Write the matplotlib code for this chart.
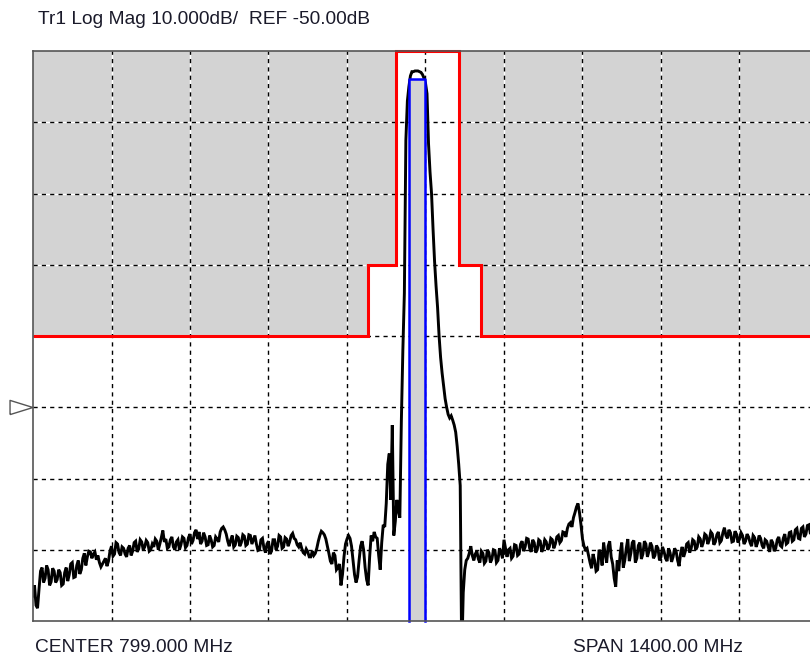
import numpy as np
import matplotlib
matplotlib.use("Agg")
import matplotlib.pyplot as plt
from matplotlib.transforms import blended_transform_factory

# ---------------- data ----------------
START_MHZ = 99.0
STOP_MHZ = 1499.0
REF_DB = -50.0
DB_PER_DIV = 10.0
TITLE = "Tr1 Log Mag 10.000dB/  REF -50.00dB"
CENTER_LABEL = "CENTER 799.000 MHz"
SPAN_LABEL = "SPAN 1400.00 MHz"

# measured trace (dB), 521 sweep points from START to STOP
trace_db = [
    -76.5, -75.0, -77.8, -78.2, -75.5, -73.0, -72.5, -74.6, -74.0, -72.2,
    -72.8, -75.0, -74.5, -72.6, -73.0, -74.6, -74.2, -72.8, -73.2, -75.0,
    -74.8, -73.2, -72.5, -74.4, -73.5, -72.0, -71.8, -73.9, -73.8, -72.2,
    -71.5, -73.4, -72.8, -71.2, -70.5, -72.2, -71.0, -70.2, -70.3, -71.2,
    -70.6, -70.3, -71.4, -70.8, -71.8, -72.4, -72.0, -71.6, -71.2, -72.3,
    -71.6, -70.2, -69.5, -70.9, -70.6, -69.0, -69.2, -70.4, -70.8, -69.6,
    -69.8, -70.6, -71.0, -69.8, -69.4, -70.8, -70.2, -69.0, -68.8, -70.3,
    -69.9, -68.6, -68.9, -70.0, -69.6, -68.7, -69.0, -70.2, -70.0, -69.2,
    -69.6, -68.5, -68.8, -70.0, -69.2, -68.3, -67.3, -68.9, -68.5, -69.8,
    -69.6, -68.6, -68.2, -69.6, -70.0, -68.9, -68.6, -70.0, -69.3, -68.2,
    -68.4, -69.7, -69.4, -68.3, -67.8, -69.2, -68.7, -67.6, -67.2, -68.5,
    -67.5, -69.2, -68.8, -67.6, -68.2, -69.4, -69.3, -68.0, -68.6, -69.6,
    -69.4, -68.2, -68.5, -68.9, -67.5, -67.0, -66.8, -67.2, -67.8, -68.8,
    -69.5, -68.6, -68.0, -69.6, -69.3, -68.1, -68.3, -69.5, -69.0, -67.9,
    -68.1, -69.4, -69.2, -67.9, -68.0, -69.2, -68.6, -68.0, -69.2, -70.1,
    -70.0, -68.6, -68.4, -69.8, -70.4, -69.2, -68.8, -70.6, -70.2, -68.6,
    -68.6, -70.0, -69.5, -68.0, -68.2, -69.8, -69.6, -68.3, -68.5, -69.5,
    -68.9, -68.0, -67.7, -68.4, -68.6, -69.3, -69.6, -69.0, -69.8, -70.4,
    -70.6, -69.9, -70.3, -71.0, -71.0, -70.2, -70.8, -70.5, -69.8, -68.8,
    -68.0, -67.4, -67.6, -67.9, -68.5, -69.5, -70.5, -71.6, -72.0, -70.4,
    -70.8, -72.8, -72.5, -72.0, -75.0, -73.5, -71.0, -69.2, -68.5, -68.0,
    -68.4, -69.5, -71.5, -73.5, -74.6, -73.8, -71.5, -69.5, -68.8, -70.0,
    -72.5, -74.2, -75.0, -71.0, -68.0, -68.8, -67.5, -68.2, -68.4, -70.8,
    -72.8, -69.0, -66.5, -66.8, -63.5, -58.0, -56.5, -63.0, -52.5, -68.0,
    -66.0, -63.0, -64.5, -65.5, -52.0, -42.0, -34.0, -12.5, -7.0, -5.0,
    -3.5, -2.9, -2.9, -2.8, -2.8, -2.8, -2.9, -3.0, -3.3, -3.8,
    -4.5, -6.0, -13.0, -17.0, -20.0, -25.0, -29.5, -33.0, -36.0, -40.0,
    -43.0, -45.2, -47.0, -48.8, -50.0, -51.0, -51.5, -51.2, -51.8, -52.5,
    -53.5, -55.5, -58.0, -61.0, -85.0, -76.0, -72.8, -71.5, -71.2, -70.5,
    -69.5, -70.8, -71.5, -70.6, -70.2, -71.3, -71.8, -70.2, -70.5, -71.9,
    -71.6, -70.0, -70.4, -71.8, -71.3, -70.0, -70.1, -71.8, -71.5, -69.8,
    -70.3, -71.2, -68.6, -69.8, -71.0, -70.0, -69.8, -71.2, -70.9, -69.3,
    -69.4, -70.8, -70.6, -69.2, -68.8, -70.2, -69.6, -68.4, -68.5, -69.8,
    -70.3, -68.6, -69.0, -70.4, -70.0, -68.6, -68.8, -70.3, -69.8, -68.6,
    -68.9, -70.0, -69.6, -68.4, -68.6, -69.8, -69.2, -68.2, -68.0, -69.0,
    -68.7, -67.5, -67.6, -68.2, -67.0, -66.4, -66.2, -66.8, -65.5, -64.8,
    -64.0, -63.5, -64.8, -66.5, -68.5, -69.5, -70.0, -69.8, -70.8, -71.8,
    -72.6, -70.6, -71.5, -73.0, -72.8, -70.0, -70.5, -72.2, -69.0, -70.6,
    -71.8, -69.5, -68.8, -71.0, -72.0, -74.0, -75.2, -71.5, -73.0, -70.5,
    -69.0, -72.5, -71.5, -69.8, -68.5, -71.6, -70.5, -69.0, -68.7, -71.8,
    -71.2, -69.4, -69.0, -71.3, -70.6, -68.8, -69.2, -71.0, -70.2, -69.0,
    -69.5, -71.2, -70.8, -69.4, -69.8, -71.5, -71.0, -69.6, -70.2, -71.2,
    -71.6, -69.8, -70.4, -71.7, -71.0, -69.8, -70.2, -71.5, -72.3, -70.5,
    -69.6, -71.0, -70.3, -69.2, -69.0, -70.4, -69.8, -68.6, -68.8, -70.0,
    -69.6, -68.2, -68.5, -69.6, -69.0, -67.8, -68.0, -69.2, -68.6, -67.5,
    -67.8, -69.3, -68.9, -67.9, -67.5, -69.0, -68.7, -67.6, -66.9, -68.0,
    -68.4, -67.2, -67.6, -68.9, -68.8, -67.4, -67.8, -69.0, -68.5, -67.6,
    -68.0, -69.2, -68.8, -67.8, -68.2, -69.0, -69.5, -68.0, -68.3, -69.6,
    -69.0, -68.0, -68.4, -69.4, -69.8, -68.6, -68.8, -69.6, -70.3, -68.6,
    -69.0, -70.2, -69.8, -68.6, -68.2, -69.4, -69.6, -68.4, -67.8, -69.2,
    -69.0, -67.6, -67.5, -68.8, -68.6, -67.2, -67.0, -68.4, -68.5, -67.0,
    -66.8, -68.2, -67.8, -66.6, -66.5, -67.8, -67.2, -66.4, -66.8, -67.6,
    -67.4,
]
trace_freq = np.linspace(START_MHZ, STOP_MHZ, len(trace_db))

# limit line mask (edges in MHz, level in dB)
limit_edges = [99.0, 697.0, 747.0, 858.0, 898.0, 1499.0]
limit_db = [-40.0, -30.0, 0.0, -30.0, -40.0]

# blue band marker
band_lo_mhz = 770.0
band_hi_mhz = 798.0
band_top_db = -3.9

# ---------------- figure ----------------
W, H = 810, 655
fig = plt.figure(figsize=(W / 100, H / 100), dpi=100)
fig.patch.set_facecolor("white")
ax = fig.add_axes([33 / W, (H - 621) / H, 785 / W, 570 / H])
ax.set_facecolor("white")

n_xdiv = 10
n_ydiv = 8
top_db = REF_DB + 5 * DB_PER_DIV
bot_db = top_db - n_ydiv * DB_PER_DIV
ax.set_xlim(START_MHZ, STOP_MHZ)
ax.set_ylim(bot_db, top_db)

xt = np.linspace(START_MHZ, STOP_MHZ, n_xdiv + 1)
yt = np.linspace(bot_db, top_db, n_ydiv + 1)
ax.set_xticks(xt)
ax.set_yticks(yt)
ax.tick_params(length=0, labelbottom=False, labelleft=False)

# gray fill above limit mask
ax.stairs(limit_db, limit_edges, baseline=top_db, fill=True,
          color="#d3d3d3", zorder=1, linewidth=0)

# grid: white underlay + black dashes
for x in xt[1:-1]:
    ax.axvline(x, color="white", lw=1.0, zorder=1.5)
    ax.axvline(x, color="black", lw=1.0, ls=(0, (3, 3)), zorder=1.6)
for y in yt[1:-1]:
    ax.axhline(y, color="white", lw=1.0, zorder=1.5)
    ax.axhline(y, color="black", lw=1.0, ls=(0, (3, 3)), zorder=1.6)

# trace
ax.plot(trace_freq, trace_db, color="black", lw=2.1, zorder=3,
        solid_joinstyle="miter")

# blue band
ax.fill_between([band_lo_mhz, band_hi_mhz], bot_db, band_top_db,
                color="#d3d3d3", zorder=4, linewidth=0)
ax.plot([band_lo_mhz, band_lo_mhz, band_hi_mhz, band_hi_mhz],
        [bot_db, band_top_db, band_top_db, bot_db],
        color="#0000ff", lw=1.8, zorder=4.5, clip_on=False)

# red limit line
ax.stairs(limit_db, limit_edges, baseline=None, color="#ff0000",
          lw=2.2, zorder=5, clip_on=False)

for side in ["left", "bottom", "top", "right"]:
    ax.spines[side].set_color("#555555")
    ax.spines[side].set_linewidth(1.2)
    ax.spines[side].set_zorder(6)

# reference level marker
tr = blended_transform_factory(ax.transAxes, ax.transData)
tri = [(-1, -0.62), (-1, 0.62), (1, 0), (-1, -0.62)]
ax.plot([-0.0147], [REF_DB], transform=tr, marker=tri, markersize=16.5,
        markerfacecolor="white", markeredgecolor="#555555",
        markeredgewidth=1.0, clip_on=False, zorder=7)

font = ["Liberation Sans", "DejaVu Sans"]
fs = 13.8
fig.text(38 / W, 1 - 20 / H, TITLE, fontsize=fs, family=font,
         color="#1a1a2a", va="center", ha="left")
fig.text(35 / W, 1 - 647 / H, CENTER_LABEL, fontsize=fs, family=font,
         color="#1a1a2a", va="center", ha="left")
fig.text(573 / W, 1 - 647 / H, SPAN_LABEL, fontsize=fs, family=font,
         color="#1a1a2a", va="center", ha="left")

fig.savefig("out.png", dpi=100, facecolor="white")
